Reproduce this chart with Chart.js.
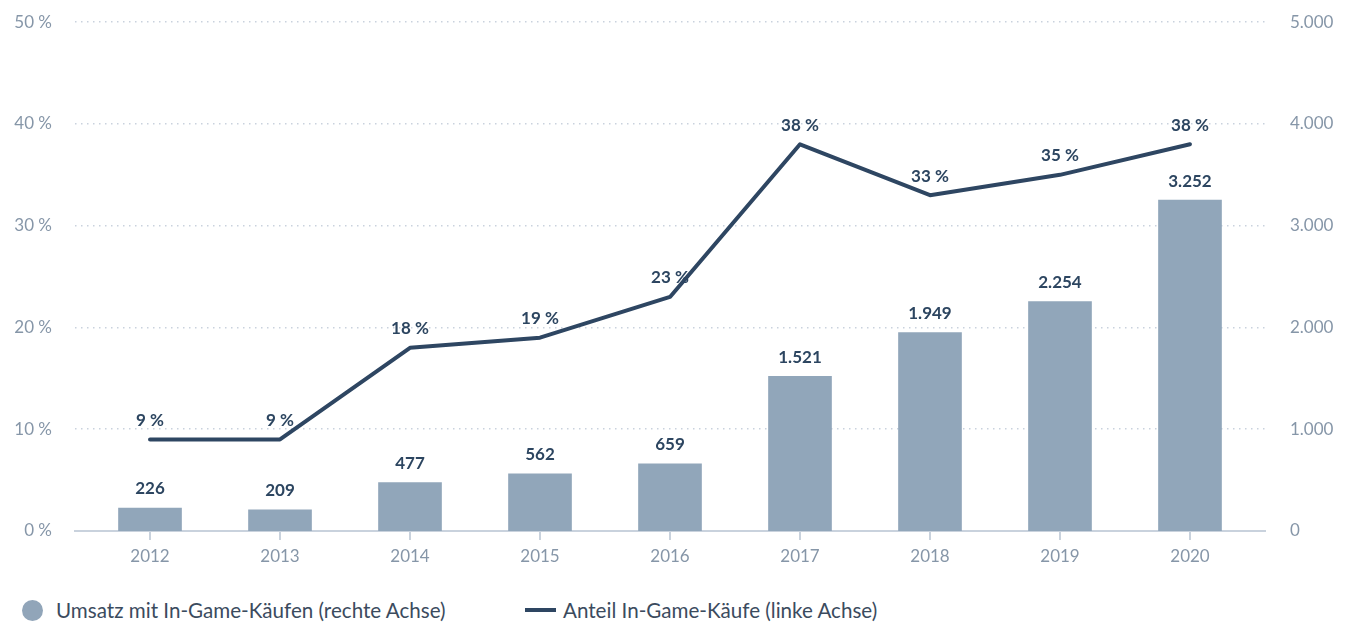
<!DOCTYPE html>
<html>
<head>
<meta charset="utf-8">
<script src="https://cdn.jsdelivr.net/npm/chart.js@4.4.1/dist/chart.umd.min.js"></script>
<style>
  html, body { margin: 0; padding: 0; background: #fff; }
  body { width: 1352px; height: 623px; overflow: hidden; font-family: Lato, "Noto Sans", sans-serif; }
  #wrap { position: relative; width: 1352px; height: 593px; margin-top: -13px; }
  #legend { position: absolute; top: 598px; left: 22px; font-size: 20.6px; color: #3b4b5e; }
  .item { position: absolute; top: 0; white-space: nowrap; display: flex; align-items: center; height: 24px; }
  .dot { width: 21px; height: 21px; border-radius: 50%; background: #91a5b9; margin-right: 13px; }
  .bar { width: 31px; height: 4px; background: #2e4662; margin-right: 7px; }
</style>
</head>
<body>
<div id="wrap"><canvas id="chart" width="1352" height="593"></canvas></div>
<div id="legend">
  <div class="item" style="left:0"><span class="dot"></span>Umsatz mit In-Game-Käufen (rechte Achse)</div>
  <div class="item" style="left:503px"><span class="bar"></span>Anteil In-Game-Käufe (linke Achse)</div>
</div>
<script>
// Jahre und Werte aus der Vorlage
const years = [2012, 2013, 2014, 2015, 2016, 2017, 2018, 2019, 2020];
const umsatz = [226, 209, 477, 562, 659, 1521, 1949, 2254, 3252];   // rechte Achse
const anteil = [9, 9, 18, 19, 23, 38, 33, 35, 38];                  // linke Achse, in %

const barColor = '#91a6ba';
const lineColor = '#2e4662';
const gridColor = '#c9d2dd';
const tickColor = '#8696a8';
const fontFam = 'Lato, "Noto Sans", sans-serif';

function fmtDE(v) {
    return v.toLocaleString('de-DE');
}

// Werte-Beschriftungen über Balken und Linienpunkten
const valueLabels = {
    id: 'valueLabels',
    afterDatasetsDraw(chart) {
        const ctx = chart.ctx;
        ctx.save();
        ctx.font = 'bold 17px ' + fontFam;
        ctx.fillStyle = '#2c4560';
        ctx.textAlign = 'center';
        ctx.textBaseline = 'middle';
        chart.getDatasetMeta(1).data.forEach((bar, i) => {
            ctx.fillText(fmtDE(umsatz[i]), bar.x, bar.y - 19);
        });
        chart.getDatasetMeta(0).data.forEach((pt, i) => {
            ctx.fillText(anteil[i] + ' %', pt.x, pt.y - 19);
        });
        ctx.restore();
    }
};

const ctx = document.getElementById('chart').getContext('2d');
new Chart(ctx, {
    data: {
        datasets: [
            {
                type: 'line',
                label: 'Anteil In-Game-Käufe (linke Achse)',
                data: years.map((y, i) => ({ x: y, y: anteil[i] })),
                yAxisID: 'yL',
                borderColor: lineColor,
                borderWidth: 4,
                borderCapStyle: 'round',
                borderJoinStyle: 'round',
                pointRadius: 0,
                tension: 0
            },
            {
                type: 'bar',
                label: 'Umsatz mit In-Game-Käufen (rechte Achse)',
                data: years.map((y, i) => ({ x: y, y: umsatz[i] })),
                yAxisID: 'yR',
                backgroundColor: barColor,
                barThickness: 63
            }
        ]
    },
    options: {
        responsive: false,
        animation: false,
        layout: { padding: { top: 8, left: 0, right: 0, bottom: 0 } },
        plugins: { legend: { display: false }, tooltip: { enabled: false } },
        scales: {
            x: {
                type: 'linear',
                offset: false,
                min: 2011.423,
                max: 2020.577,
                afterBuildTicks: (s) => { s.ticks = years.map(v => ({ value: v })); },
                afterFit: (s) => { s.height = 49; },
                border: { color: gridColor, width: 2 },
                grid: { offset: false, drawOnChartArea: false, color: gridColor, tickLength: 9, lineWidth: 2 },
                ticks: {
                    color: tickColor,
                    font: { size: 17, family: fontFam },
                    padding: 6,
                    callback: (v) => String(v)
                }
            },
            yL: {
                position: 'left',
                min: 0, max: 50,
                afterFit: (s) => { s.width = 75; },
                border: { display: false, dash: [1.5, 4.5] },
                grid: { color: gridColor, lineWidth: 1.5, drawTicks: false },
                ticks: {
                    stepSize: 10,
                    color: tickColor,
                    padding: 23,
                    font: { size: 17, family: fontFam },
                    callback: (v) => v + ' %'
                }
            },
            yR: {
                position: 'right',
                min: 0, max: 5000,
                afterFit: (s) => { s.width = 87; },
                border: { display: false },
                grid: { display: false, drawTicks: false },
                ticks: {
                    stepSize: 1000,
                    color: tickColor,
                    padding: 25,
                    font: { size: 17, family: fontFam },
                    callback: (v) => fmtDE(v)
                }
            }
        }
    },
    plugins: [valueLabels]
});
</script>
</body>
</html>
